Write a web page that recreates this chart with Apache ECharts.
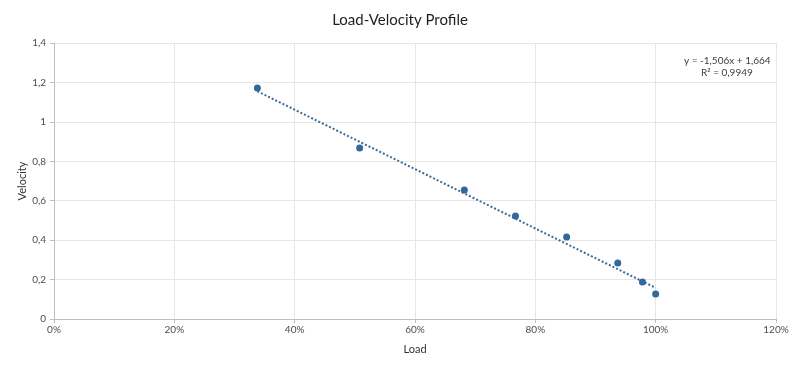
<!DOCTYPE html>
<html>
<head>
<meta charset="utf-8">
<script src="https://cdn.jsdelivr.net/npm/echarts@6/dist/echarts.min.js"></script>
<style>html,body{margin:0;padding:0;background:#fff}#c{width:800px;height:371px}</style>
</head>
<body>
<div id="c"></div>
<script>
var loadValues = [0.338, 0.508, 0.682, 0.767, 0.852, 0.937, 0.978, 1.0];
var velocityValues = [1.172, 0.868, 0.654, 0.523, 0.416, 0.284, 0.188, 0.127];
var trendLoad = [0.338, 1.0];
var trendVelocity = [1.155, 0.158];
var equationLines = ['y = -1,506x + 1,664', 'R\u00B2 = 0,9949'];
var titleText = 'Load-Velocity Profile';

var font = 'Lato, "Open Sans", sans-serif';
var chart = echarts.init(document.getElementById('c'), null, {renderer: 'canvas'});
chart.setOption({
  animation: false,
  backgroundColor: '#ffffff',
  title: {
    text: titleText, left: 'center', top: 8,
    textStyle: {fontFamily: font, fontSize: 15, fontWeight: 'normal', color: '#1f1f1f'}
  },
  grid: {left: 54, right: 24, top: 43, bottom: 52},
  xAxis: {
    type: 'value', min: 0, max: 1.2, interval: 0.2,
    name: 'Load', nameLocation: 'middle', nameGap: 25, nameMoveOverlap: false,
    nameTextStyle: {fontFamily: font, fontSize: 11, color: '#333333'},
    axisLine: {show: true, lineStyle: {color: '#bfbfbf', width: 1}},
    axisTick: {show: true, length: 4, lineStyle: {color: '#bfbfbf'}},
    axisLabel: {fontFamily: font, fontSize: 10, color: '#4d4d4d', margin: 6,
      formatter: function (v) { return Math.round(v * 100) + '%'; }},
    splitLine: {show: true, lineStyle: {color: '#e6e6e6', width: 1}}
  },
  yAxis: {
    type: 'value', min: 0, max: 1.4, interval: 0.2,
    name: 'Velocity', nameLocation: 'middle', nameGap: 26, nameRotate: 90, nameMoveOverlap: false,
    nameTextStyle: {fontFamily: font, fontSize: 11, color: '#333333'},
    axisLine: {show: true, lineStyle: {color: '#bfbfbf', width: 1}},
    axisTick: {show: true, length: 4, lineStyle: {color: '#bfbfbf'}},
    axisLabel: {fontFamily: font, fontSize: 10, color: '#4d4d4d', margin: 8,
      formatter: function (v) { return String(Math.round(v * 10) / 10).replace('.', ','); }},
    splitLine: {show: true, lineStyle: {color: '#e6e6e6', width: 1}}
  },
  series: [
    {
      type: 'line', silent: true, symbol: 'none',
      data: trendLoad.map(function (x, i) { return [x, trendVelocity[i]]; }),
      lineStyle: {color: '#3b6a9a', width: 2, type: [2, 2]},
      z: 2
    },
    {
      type: 'scatter', symbol: 'circle', symbolSize: 7,
      data: loadValues.map(function (x, i) { return [x, velocityValues[i]]; }),
      itemStyle: {color: '#35669c', opacity: 1},
      z: 3
    }
  ],
  graphic: [
    {type: 'text', left: 684, top: 56,
      style: {text: equationLines[0], font: '10px ' + font, fill: '#404040'}},
    {type: 'text', left: 701, top: 68,
      style: {text: equationLines[1], font: '10px ' + font, fill: '#404040'}}
  ]
});
</script>
</body>
</html>
